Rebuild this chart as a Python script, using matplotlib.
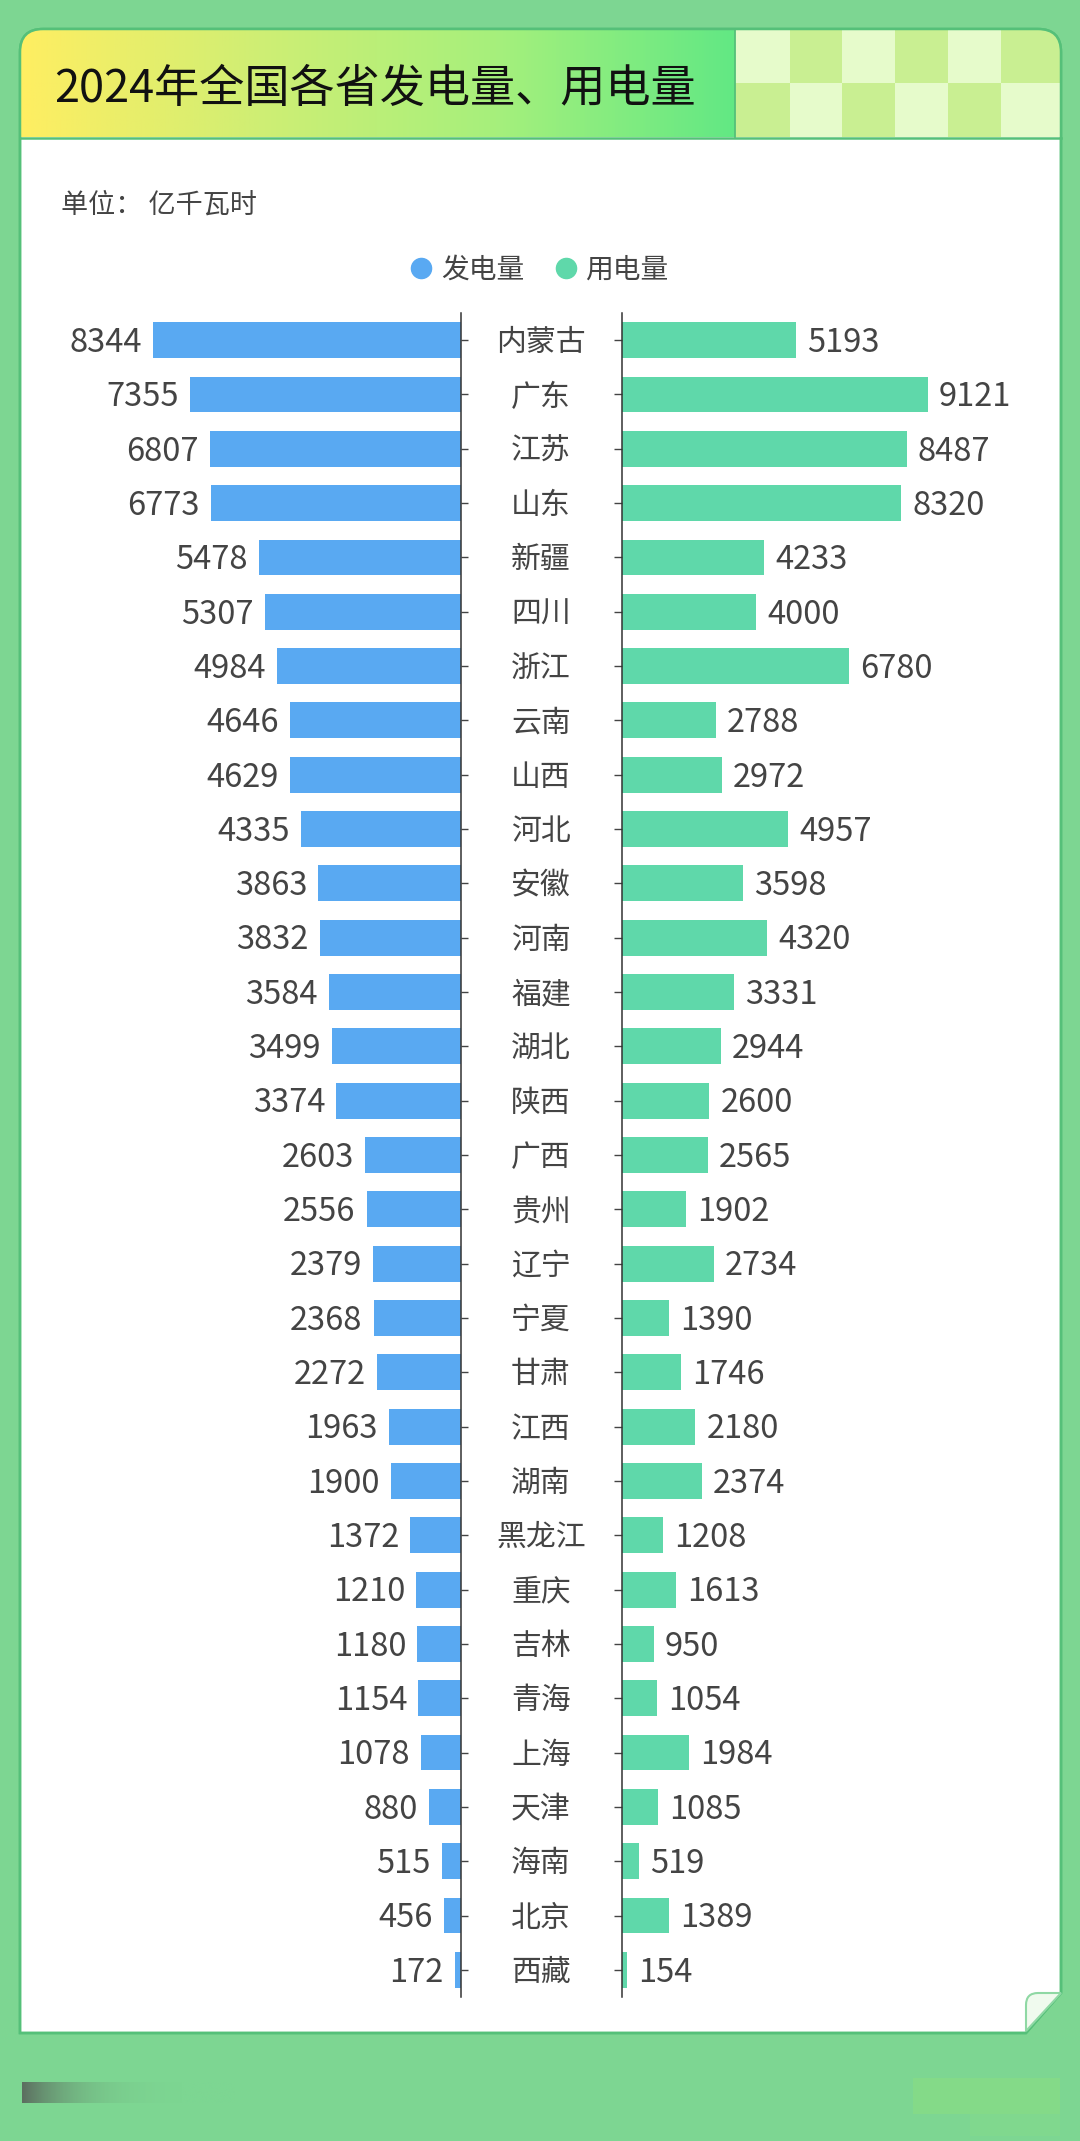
import numpy as np
import matplotlib
matplotlib.use("Agg")
import matplotlib.pyplot as plt
from matplotlib.colors import LinearSegmentedColormap
from matplotlib.lines import Line2D
from matplotlib.patches import PathPatch, Rectangle
from matplotlib.path import Path
from matplotlib.transforms import ScaledTranslation

plt.rcParams['font.family'] = ['Noto Sans CJK SC', 'DejaVu Sans']

W, H = 1080, 2141
BG = "#7DD692"
EDGE = "#55C079"
BLUE = "#59A9F2"
TEAL = "#5FD8AA"
TEXT = "#444444"

provinces = ["内蒙古", "广东", "江苏", "山东", "新疆", "四川", "浙江", "云南", "山西", "河北", "安徽",
             "河南", "福建", "湖北", "陕西", "广西", "贵州", "辽宁", "宁夏", "甘肃", "江西", "湖南",
             "黑龙江", "重庆", "吉林", "青海", "上海", "天津", "海南", "北京", "西藏"]
generation = [8344, 7355, 6807, 6773, 5478, 5307, 4984, 4646, 4629, 4335, 3863,
              3832, 3584, 3499, 3374, 2603, 2556, 2379, 2368, 2272, 1963, 1900,
              1372, 1210, 1180, 1154, 1078, 880, 515, 456, 172]
consumption = [5193, 9121, 8487, 8320, 4233, 4000, 6780, 2788, 2972, 4957, 3598,
               4320, 3331, 2944, 2600, 2565, 1902, 2734, 1390, 1746, 2180, 2374,
               1208, 1613, 950, 1054, 1984, 1085, 519, 1389, 154]


def px_axes(left, top, right, bottom):
    # axes placed by pixel box, y measured from the top of the picture
    return fig.add_axes([left / W, 1 - bottom / H, (right - left) / W, (bottom - top) / H])


fig = plt.figure(figsize=(W / 100, H / 100), dpi=100, facecolor=BG)

# background layer in pixel coordinates
bg = fig.add_axes([0, 0, 1, 1], zorder=0)
bg.set_xlim(0, W)
bg.set_ylim(H, 0)
bg.axis("off")

card_path = Path(
    [(20, 2033), (20, 52), (20, 29), (43, 29), (1038, 29), (1061, 29), (1061, 52), (1061, 1993), (1026, 2033), (20, 2033)],
    [Path.MOVETO, Path.LINETO, Path.CURVE3, Path.CURVE3, Path.LINETO, Path.CURVE3, Path.CURVE3, Path.LINETO, Path.LINETO, Path.CLOSEPOLY],
)
card = PathPatch(card_path, facecolor="white", edgecolor=EDGE, lw=1.8, zorder=1)
bg.add_patch(card)

# header gradient and checker block
grad = LinearSegmentedColormap.from_list("head", ["#FFEE62", "#CFEE74", "#A6F07C", "#62E884"])
im = bg.imshow(np.linspace(0, 1, 256).reshape(1, -1), cmap=grad, extent=(20, 735, 137, 30),
               aspect="auto", zorder=2)
im.set_clip_path(card)

col_edges = [735, 790, 842, 895, 948, 1001, 1061]
row_edges = [30, 83, 137]
for i in range(6):
    for j in range(2):
        c = "#E6FBCB" if (i + j) % 2 == 0 else "#C9EF92"
        r = Rectangle((col_edges[i], row_edges[j]), col_edges[i + 1] - col_edges[i],
                      row_edges[j + 1] - row_edges[j], facecolor=c, edgecolor="none", zorder=2)
        bg.add_patch(r)
        r.set_clip_path(card)
bg.plot([20, 1061], [138, 138], color=EDGE, lw=1.8, zorder=3)
bg.plot([735, 735], [30, 137], color=EDGE, lw=1.3, zorder=3)
bg.add_patch(PathPatch(card_path, facecolor="none", edgecolor=EDGE, lw=1.8, zorder=4))

# folded corner
fold = Path([(1026, 2031), (1026, 2005), (1026, 1993), (1038, 1993), (1061, 1993), (1026, 2031)],
            [Path.MOVETO, Path.LINETO, Path.CURVE3, Path.CURVE3, Path.LINETO, Path.CLOSEPOLY])
bg.add_patch(PathPatch(fold, facecolor="#F0FAEE", edgecolor="#8FD8A4", lw=1.5, zorder=4))

# blurred corners at the foot of the picture
smudge = np.linspace(1, 0, 200).reshape(1, -1) ** 4
bg.imshow(smudge, cmap=LinearSegmentedColormap.from_list("s", [BG, "#5C6E60"]), vmin=0, vmax=1,
          extent=(22, 235, 2103, 2082), aspect="auto", zorder=1)
bg.add_patch(Rectangle((913, 2078), 147, 36, facecolor="#84DA88", edgecolor="none", zorder=1))
bg.add_patch(Rectangle((970, 2114), 90, 22, facecolor="#80D88E", edgecolor="none", zorder=1))
bg.set_xlim(0, W)
bg.set_ylim(H, 0)

bg.text(54, 89, "2024年全国各省发电量、用电量", fontsize=32.5, color="#111111", va="center", ha="left", zorder=5)
bg.text(61, 205, "单位： 亿千瓦时", fontsize=19.5, color=TEXT, va="center", ha="left", zorder=5)

# the two mirrored bar panels
y = np.arange(len(provinces))
top_px, bottom_px = 313, 1997

ax_l = px_axes(92, top_px, 461, bottom_px)
ax_r = px_axes(622, top_px, 957.5, bottom_px)

bars_l = ax_l.barh(y, generation, height=0.66, color=BLUE)
bars_r = ax_r.barh(y, consumption, height=0.66, color=TEAL)
ax_l.set_xlim(10000, 0)
ax_r.set_xlim(0, 10000)

for ax in (ax_l, ax_r):
    ax.set_ylim(len(provinces) - 0.5, -0.5)
    ax.patch.set_alpha(0)
    ax.set_yticks(y)
    ax.xaxis.set_visible(False)
    for s in ("top", "bottom", "left", "right"):
        ax.spines[s].set_visible(False)

ax_l.spines["right"].set_visible(True)
ax_r.spines["left"].set_visible(True)
ax_l.spines["right"].set_color("#333333")
ax_r.spines["left"].set_color("#333333")
ax_l.spines["right"].set_linewidth(1.1)
ax_r.spines["left"].set_linewidth(1.1)

ax_l.yaxis.tick_right()
ax_l.tick_params(axis="y", length=5, width=1, color="#444444", pad=52.5)
ax_l.set_yticklabels(provinces, fontsize=21.5, color=TEXT, ha="center", va="center")
ax_r.tick_params(axis="y", length=6, width=1, color="#444444", labelleft=False)

# province names sit a little below the tick
shift = ScaledTranslation(0, -2.5 / 100, fig.dpi_scale_trans)
for lab in ax_l.get_yticklabels():
    lab.set_transform(lab.get_transform() + shift)

texts_l = ax_l.bar_label(bars_l, labels=[str(v) for v in generation], padding=8, fontsize=23.5, color=TEXT)
texts_r = ax_r.bar_label(bars_r, labels=[str(v) for v in consumption], padding=8, fontsize=23.5, color=TEXT)
for t in list(texts_l) + list(texts_r):
    t.xyann = (t.xyann[0], t.xyann[1] - 2)

handles = [
    Line2D([], [], linestyle="none", marker="o", markersize=14.5, color=BLUE, label="发电量"),
    Line2D([], [], linestyle="none", marker="o", markersize=14.5, color=TEAL, label="用电量"),
]
fig.legend(handles=handles, ncol=2, loc="center", bbox_to_anchor=(536.5 / W, 1 - 270 / H), frameon=False,
           fontsize=20, labelcolor=TEXT, handletextpad=0.1, columnspacing=0.9, handlelength=1.2)

fig.savefig("out.png", dpi=100, facecolor=BG)
